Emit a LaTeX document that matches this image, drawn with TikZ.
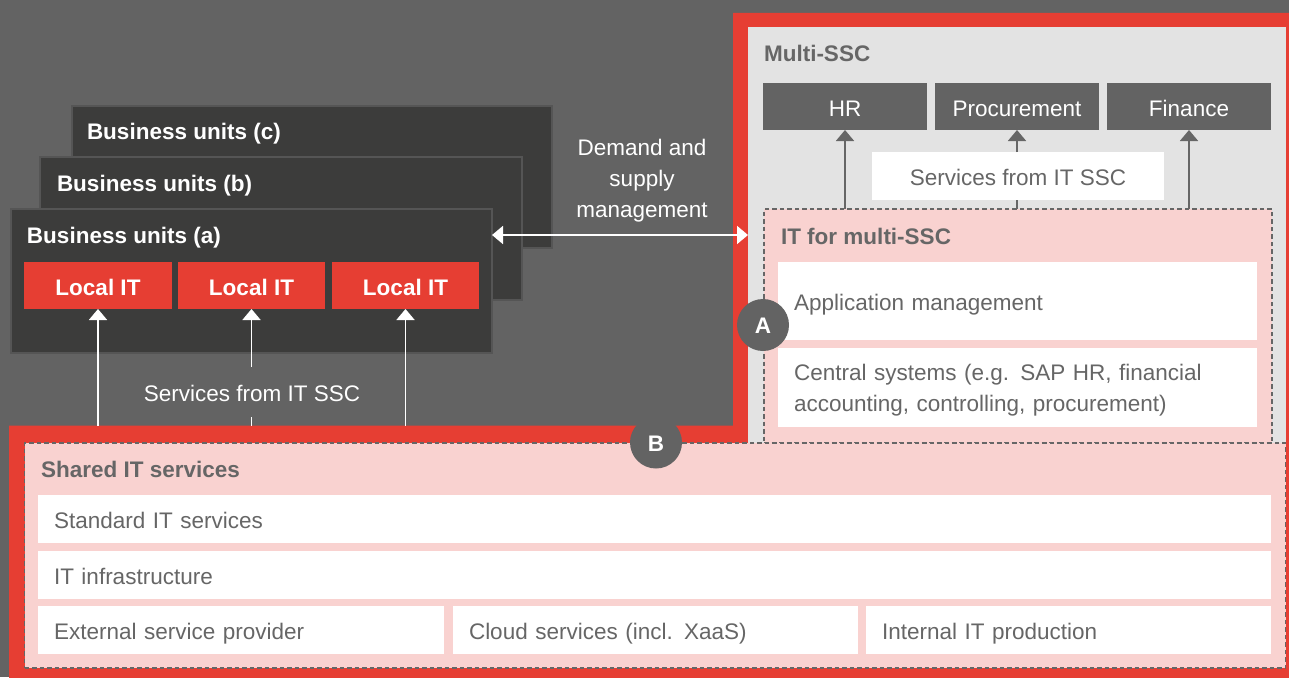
\documentclass[tikz,border=0pt]{standalone}
\usepackage{fontspec}
\setmainfont{Liberation Sans}
\usetikzlibrary{arrows.meta}
\definecolor{bg}{HTML}{636363}
\definecolor{bu}{HTML}{3C3C3B}
\definecolor{buedge}{HTML}{555555}
\definecolor{pwcred}{HTML}{E63E33}
\definecolor{lgray}{HTML}{E3E3E3}
\definecolor{pinkf}{HTML}{F9D2D0}
\definecolor{dgray}{HTML}{666666}
\newcommand\regsz{\fontsize{22.5}{31}\selectfont}
\begin{document}
\begin{tikzpicture}[x=1pt,y=-1pt,
 every node/.style={inner sep=0pt,outer sep=0pt,font=\regsz},
 bubox/.style={anchor=north west,fill=bu,draw=buedge,line width=1.3pt},
 butitle/.style={anchor=base west,text=white,font=\regsz\bfseries},
 oneline/.style={text height=19pt,text depth=0pt},
 localit/.style={anchor=north west,fill=pwcred,text=white,font=\regsz\bfseries,minimum height=47pt,oneline},
 sscbox/.style={anchor=north west,fill=bg,text=white,minimum width=164pt,minimum height=47pt,oneline},
 dashbox/.style={anchor=north west,fill=pinkf,draw=dgray,line width=1.6pt,dash pattern=on 4.5pt off 3pt},
 gtitle/.style={anchor=base west,text=dgray,font=\regsz\bfseries},
 wbox/.style={anchor=north west,fill=white,text=dgray,align=left,inner xsep=16pt},
 marker/.style={circle,fill=bg,text=white,font=\regsz\bfseries,minimum size=52pt,text height=17pt,text depth=0pt},
 warrow/.style={draw=white,line width=1.8pt,-{Triangle[width=18pt,length=11pt]}},
 wdarrow/.style={draw=white,line width=1.8pt,{Triangle[width=18pt,length=11pt]}-{Triangle[width=18pt,length=11pt]}},
 garrow/.style={draw=dgray,line width=1.8pt,-{Triangle[width=18pt,length=11pt]}},
 gline/.style={draw=dgray,line width=1.8pt},
 wline/.style={draw=white,line width=1.8pt}]

\useasboundingbox (0,0) rectangle (1289,677);
\clip (0,0) rectangle (1289,677);
\fill[bg] (0,0) rectangle (1289,677);

% business units
\node[bubox,minimum width=480pt,minimum height=142pt] (buc) at (72,106) {};
\node[butitle] (buct) at (87,139) {Business units (c)};
\node[bubox,minimum width=482pt,minimum height=143pt] (bub) at (40,157) {};
\node[butitle] (bubt) at (57,191) {Business units (b)};
\node[bubox,minimum width=481pt,minimum height=144pt] (bua) at (11,209) {};
\node[butitle] (buat) at (27,243) {Business units (a)};
\node[localit,minimum width=148pt] (lit1) at (24,262) {Local IT};
\node[localit,minimum width=147pt] (lit2) at (178,262) {Local IT};
\node[localit,minimum width=147pt] (lit3) at (332,262) {Local IT};

\node[text=white,align=center] (dsm) at (642,181) {Demand and\\supply\\management};

% red frame and inner areas
\fill[pwcred] (733,13) -- (1300,13) -- (1300,690) -- (9,690) -- (9,425.5) -- (733,425.5) -- cycle;
\fill[lgray] (748,27.5) rectangle (1286,443);

\node[dashbox,minimum width=508pt,minimum height=234pt] (itm) at (764,209) {};
\node[dashbox,minimum width=1261pt,minimum height=225pt] (shared) at (24.5,443) {};

\node[gtitle] (msc) at (764,62) {Multi-SSC};
\node[sscbox] (hr) at (763,83) {HR};
\node[sscbox] (proc) at (935,83) {Procurement};
\node[sscbox] (fin) at (1107,83) {Finance};
\node[anchor=north west,fill=white,text=dgray,minimum width=292pt,minimum height=48pt,oneline] (svc2) at (872,152) {Services from IT SSC};

\draw[garrow] (hr.south |- itm.north) -- (hr.south);
\draw[garrow] (fin.south |- itm.north) -- (fin.south);
\draw[garrow] (svc2.north -| proc.south) -- (proc.south);
\draw[gline] (svc2.south -| proc.south) -- (proc.south |- itm.north);

\node[gtitle] (itmt) at (781,244) {IT for multi-SSC};
\node[wbox,text width=447pt,minimum height=78pt,oneline] (app) at (778,262) {Application management};
\node[wbox,text width=447pt,minimum height=79pt,text height=22pt] (cen) at (778,348) {Central systems (e.g. SAP HR, financial\\accounting, controlling, procurement)};

\node[gtitle] (sht) at (41,477) {Shared IT services};
\node[wbox,text width=1201pt,minimum height=48pt,oneline] (std) at (38,495) {Standard IT services};
\node[wbox,text width=1201pt,minimum height=48pt,oneline] (infra) at (38,551) {IT infrastructure};
\node[wbox,text width=374pt,minimum height=48pt,oneline] (ext) at (38,606) {External service provider};
\node[wbox,text width=373pt,minimum height=48pt,oneline] (cloud) at (453,606) {Cloud services (incl. XaaS)};
\node[wbox,text width=373pt,minimum height=48pt,oneline] (intp) at (866,606) {Internal IT production};

% connectors on the left
\coordinate (redtop) at (0,425.5);
\coordinate (gleft) at (748,235);
\node[text=white,minimum height=50pt,oneline] (svc1) at (252,392) {Services from IT SSC};
\draw[warrow] (lit1.south |- redtop) -- (lit1.south);
\draw[warrow] (lit3.south |- redtop) -- (lit3.south);
\draw[warrow] (svc1.north -| lit2.south) -- (lit2.south);
\draw[wline] (svc1.south -| lit2.south) -- (lit2.south |- redtop);
\draw[wdarrow] (bua.east |- gleft) -- (gleft);

% markers
\node[marker] (ma) at (763,325) {A};
\node[marker] (mb) at (656,442.5) {B};
\end{tikzpicture}
\end{document}
